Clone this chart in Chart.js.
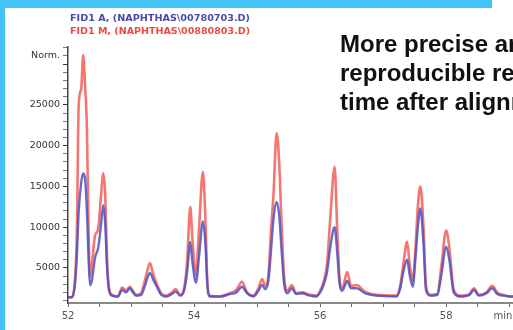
<!DOCTYPE html>
<html>
<head>
<meta charset="utf-8">
<script src="https://cdn.jsdelivr.net/npm/chart.js@4"></script>
<style>
body{margin:0;background:#fff}
#wrap{position:relative;width:513px;height:330px;overflow:hidden;background:#fff}
#topbar{position:absolute;left:0;top:0;width:492px;height:8px;background:#42c5f4}
#leftbar{position:absolute;left:0;top:0;width:5px;height:330px;background:#42c5f4}
</style>
</head>
<body>
<div id="wrap">
<canvas id="gc"></canvas>
<div id="topbar"></div>
<div id="leftbar"></div>
</div>
<script>
// retention time (min) and detector response
let times=[52.00,52.06,52.11,52.14,52.17,52.21,52.24,52.27,52.30,52.33,52.35,52.38,52.43,52.48,52.52,52.56,52.59,52.62,52.65,52.70,52.79,52.86,52.92,52.98,53.03,53.08,53.16,53.22,53.27,53.30,53.35,53.41,53.48,53.56,53.65,53.71,53.78,53.84,53.89,53.94,53.97,54.03,54.08,54.14,54.18,54.21,54.25,54.41,54.57,54.67,54.76,54.84,54.94,55.02,55.08,55.13,55.18,55.22,55.26,55.31,55.35,55.39,55.43,55.48,55.55,55.62,55.71,55.84,55.94,56.00,56.05,56.11,56.16,56.23,56.27,56.31,56.35,56.43,56.49,56.58,56.71,56.89,57.21,57.27,57.32,57.38,57.42,57.47,57.51,57.55,57.59,57.64,57.68,57.75,57.86,57.92,58.00,58.05,58.12,58.22,58.37,58.44,58.52,58.64,58.73,58.81,58.91,59.02,59.10]
let fidA=[1400,1400,3000,6500,12000,15500,16600,16000,12000,5500,2900,3500,6300,7500,10000,12700,10500,5000,2300,1600,1500,2300,2000,2500,2000,1600,1700,2800,4000,4400,3600,2700,1700,1500,1800,2100,1600,2200,4500,8200,6000,3200,6500,10700,8000,3000,1500,1500,1800,2000,2700,1900,1500,2200,2900,2400,3500,7000,11000,13100,11500,7000,3000,1900,2500,1800,1900,1600,1500,2000,2800,4500,7500,10000,7000,3000,2200,3400,2500,2500,1900,1600,1500,2500,4500,6000,4200,2700,6000,10000,12300,8000,2300,1600,1700,4000,7600,6000,2000,1500,1700,2300,1600,1900,2500,1800,1600,1500,1500]
let fidM=[1400,1400,3500,9000,25000,27000,31100,27500,22000,8000,3900,5500,9000,9800,13500,16600,14000,6000,2600,1700,1500,2600,2200,2700,2200,1700,1900,3500,5000,5600,4300,3000,1900,1600,2000,2400,1700,2400,5800,12500,9000,4100,10000,16800,11000,3500,1600,1500,1900,2300,3300,2000,1600,2500,3650,2800,4200,9500,14000,21500,18000,10000,3800,2200,2900,1900,2000,1700,1600,2200,3200,5500,11000,17400,10000,3500,2500,4500,2800,2900,2100,1700,1600,2800,5500,8200,5500,3500,7000,12500,15000,10000,2800,1700,1800,5000,9600,7500,2300,1600,1800,2500,1700,2000,2800,2000,1700,1500,1500]

let seriesNames=["FID1 A, (NAPHTHAS\\00780703.D)","FID1 M, (NAPHTHAS\\00880803.D)"]
let xTicks=[52,52.5,53,53.5,54,54.5,55,55.5,56,56.5,57,57.5,58,58.5,59]
let yLabels=[5000,10000,15000,20000,25000]
let noteLines=["More precise and","reproducible retention","time after alignment"]

let yTicks=[]
for(let v=1000;v<=32000;v+=1000) yTicks.push(v)

function pts(vals){
    return times.map((t,i)=>({x:t,y:vals[i]}))
}

let textPlugin={
    id:"texts",
    afterDraw(chart){
        let ctx=chart.ctx
        ctx.save()
        // legend lines, stretched like the original
        ctx.font="bold 8px 'DejaVu Sans'"
        ctx.textBaseline="alphabetic"
        let cols=["#4a4aa8","#f04a40"]
        seriesNames.forEach((s,i)=>{
            let w=ctx.measureText(s).width
            ctx.save()
            ctx.translate(70,21+i*13)
            ctx.scale(180/w,1)
            ctx.fillStyle=cols[i]
            ctx.fillText(s,0,0)
            ctx.restore()
        })
        // x unit
        ctx.font="10px 'DejaVu Sans'"
        ctx.fillStyle="#555"
        ctx.textAlign="center"
        ctx.textBaseline="middle"
        ctx.fillText("min",503,316)
        // note
        ctx.font="bold 24px 'Liberation Sans'"
        ctx.fillStyle="#111"
        ctx.textAlign="left"
        ctx.textBaseline="alphabetic"
        noteLines.forEach((l,i)=>ctx.fillText(l,340,52+i*29))
        ctx.restore()
    }
}

new Chart("gc",{
    type:"line",
    data:{
        datasets:[{
            label:seriesNames[0],
            data:pts(fidA),
            borderColor:"rgba(80,80,195,0.85)",
            borderWidth:2.4,
            pointRadius:0,
            cubicInterpolationMode:"monotone",
            order:0
        },{
            label:seriesNames[1],
            data:pts(fidM),
            borderColor:"rgba(240,85,75,0.8)",
            borderWidth:2.6,
            pointRadius:0,
            cubicInterpolationMode:"monotone",
            order:1
        }]
    },
    options:{
        responsive:true,
        maintainAspectRatio:false,
        animation:false,
        layout:{padding:{top:47,right:0,left:0,bottom:0}},
        plugins:{legend:{display:false},tooltip:{enabled:false}},
        scales:{
            x:{
                type:"linear",
                min:52,
                max:59.06,
                afterBuildTicks:s=>{s.ticks=xTicks.map(v=>({value:v}))},
                afterFit:s=>{s.height=27},
                border:{color:"#888",width:2},
                grid:{drawOnChartArea:false,tickLength:4,color:"#666"},
                ticks:{
                    autoSkip:false,
                    maxRotation:0,
                    padding:3,
                    color:"#555",
                    font:{family:"DejaVu Sans",size:10},
                    callback:v=>v%2===0?String(v):""
                }
            },
            y:{
                min:700,
                max:32100,
                afterBuildTicks:s=>{s.ticks=yTicks.map(v=>({value:v}))},
                afterFit:s=>{s.width=68},
                border:{color:"#444",width:1.5},
                grid:{
                    drawOnChartArea:false,
                    tickLength:5,
                    tickColor:c=>(c.tick&&c.tick.value%5000===0)?"#333":"#777"
                },
                ticks:{
                    autoSkip:false,
                    padding:3,
                    color:"#333",
                    font:{family:"DejaVu Sans",size:9.5},
                    callback:v=>yLabels.includes(v)?String(v):(v===31000?"Norm.":"")
                }
            }
        }
    },
    plugins:[textPlugin]
})
</script>
</body>
</html>
